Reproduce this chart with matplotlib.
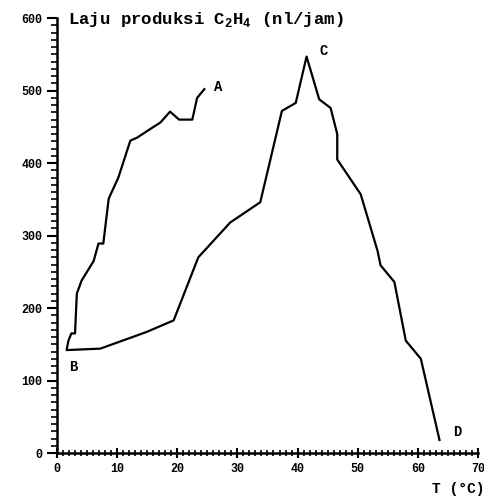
import matplotlib.pyplot as plt
from matplotlib.ticker import MultipleLocator

# curve A -> B -> C -> D, temperature (C) and C2H4 production rate (nl/jam)
temp = [24.5, 23.3, 22.5, 20.3, 18.8, 17.2, 15.5, 13.3, 12.2, 10.2, 8.6,
        7.7, 6.9, 6.1, 4.1, 3.3, 3.0, 2.4, 1.9, 1.6,
        7.2, 14.9, 19.4, 23.5, 28.8, 33.8, 37.4, 39.7, 41.5, 43.6, 45.5,
        46.6, 46.6, 50.5, 53.3, 53.8, 56.1, 58.0, 60.5, 63.6]
rate = [502, 490, 460, 460, 471, 456, 447, 435, 431, 380, 351,
        289, 289, 265, 238, 220, 165, 165, 155, 142,
        144, 167, 183, 270, 318, 346, 472, 483, 547, 488, 476,
        440, 405, 357, 279, 259, 236, 155, 130, 18]

point_names = ["A", "B", "C", "D"]
point_temp = [26.8, 2.7, 44.3, 66.5]
point_rate = [505, 119, 555, 29]

title = "Laju produksi C$_2$H$_4$ (nl/jam)"
xlabel = "T (°C)"

plt.rcParams['font.family'] = ['Liberation Mono', 'DejaVu Sans']
plt.rcParams['font.weight'] = 'bold'
plt.rcParams['mathtext.fontset'] = 'custom'
plt.rcParams['mathtext.rm'] = 'Liberation Mono:bold'

fig = plt.figure(figsize=(4.85, 5.01), dpi=100)
ax = fig.add_axes([0.1175, 0.0958, 0.868, 0.868])

ax.plot(temp, rate, color='black', lw=1.6)

for name, t, r in zip(point_names, point_temp, point_rate):
    ax.text(t, r, name, fontsize=10, fontweight='bold', ha='center', va='center')

ax.set_xlim(0, 70)
ax.set_ylim(0, 600)
ax.spines['top'].set_visible(False)
ax.spines['right'].set_visible(False)
ax.spines['left'].set_linewidth(1.8)
ax.spines['bottom'].set_linewidth(1.8)

ax.xaxis.set_major_locator(MultipleLocator(10))
ax.xaxis.set_minor_locator(MultipleLocator(1))
ax.yaxis.set_major_locator(MultipleLocator(100))
ax.yaxis.set_minor_locator(MultipleLocator(10))
ax.tick_params(which='major', direction='inout', length=7, width=1.5, labelsize=8.5)
ax.tick_params(which='minor', direction='inout', length=4, width=1.2)
ax.tick_params(axis='y', which='both', direction='out')
ax.tick_params(axis='x', which='major', pad=4)

fig.text(0.14, 0.962, title, fontsize=12.5, fontweight='bold', va='center', ha='left')
fig.text(0.998, 0.024, xlabel, fontsize=10.5, fontweight='bold', va='center', ha='right')

fig.savefig('out.png', dpi=100)
